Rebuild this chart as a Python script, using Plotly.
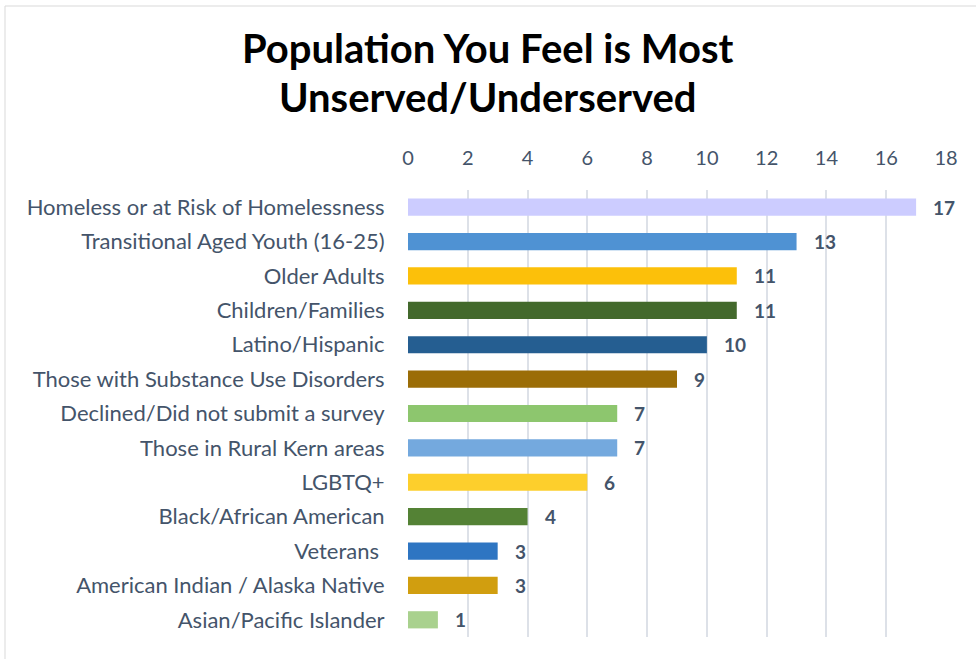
import plotly.graph_objects as go

categories = [
    "Homeless or at Risk of Homelessness",
    "Transitional Aged Youth (16-25)",
    "Older Adults",
    "Children/Families",
    "Latino/Hispanic",
    "Those with Substance Use Disorders",
    "Declined/Did not submit a survey",
    "Those in Rural Kern areas",
    "LGBTQ+",
    "Black/African American",
    "Veterans ",
    "American Indian / Alaska Native",
    "Asian/Pacific Islander",
]
values = [17, 13, 11, 11, 10, 9, 7, 7, 6, 4, 3, 3, 1]
colors = ["#CCCCFF", "#4F92D3", "#FCC00A", "#43692C", "#255E91", "#9B6D07",
          "#8DC66E", "#74A9DE", "#FDCF2C", "#548235", "#2E75C2", "#D19E0F", "#A9D18E"]
tick_vals = list(range(0, 19, 2))
title_lines = ["Population You Feel is Most", "Unserved/Underserved"]

FONT = "Lato"
LABEL_COLOR = "#44546A"

fig = go.Figure()
fig.add_trace(go.Bar(
    y=categories, x=values, orientation="h",
    marker=dict(color=colors, line=dict(width=0)),
    hoverinfo="x+y",
))
for c, v in zip(categories, values):
    fig.add_annotation(x=v, y=c, text=f"<b>{v}</b>", showarrow=False,
                       xanchor="left", xshift=15,
                       font=dict(family=FONT, size=19, color=LABEL_COLOR))

L, R, T, B = 408, 30, 190, 22
W, H = 976, 659
pw = W - L - R
ph = H - T - B

def py(pix):
    return (H - B - pix) / ph

fig.add_shape(type="rect", xref="paper", yref="paper",
              x0=(5 - L) / pw, x1=(W + 5 - L) / pw,
              y0=py(H + 5), y1=py(6),
              line=dict(color="#D9D9D9", width=1), layer="below")

for i, (line, ypix) in enumerate(zip(title_lines, [48, 97])):
    fig.add_annotation(text=f"<b>{line}</b>", showarrow=False,
                       xref="paper", yref="paper",
                       x=(W / 2 - L) / pw, y=py(ypix),
                       xanchor="center", yanchor="middle",
                       font=dict(family=FONT, size=40, color="black"))

fig.update_layout(
    width=W, height=H,
    margin=dict(l=L, r=R, t=T, b=B),
    paper_bgcolor="white", plot_bgcolor="white",
    bargap=0.5,
    showlegend=False,
    xaxis=dict(side="top", range=[0, 18], tickvals=tick_vals,
               showgrid=True, gridcolor="#DDE1E8", gridwidth=2,
               zeroline=False, showline=False,
               tickfont=dict(family=FONT, size=20, color=LABEL_COLOR),
               ticks="outside", ticklen=16, tickcolor="rgba(0,0,0,0)",
               fixedrange=True),
    yaxis=dict(autorange="reversed", showgrid=False, zeroline=False,
               tickfont=dict(family=FONT, size=22, color=LABEL_COLOR),
               ticks="outside", ticklen=18, tickcolor="rgba(0,0,0,0)",
               fixedrange=True),
)

fig.write_html("out.html")
